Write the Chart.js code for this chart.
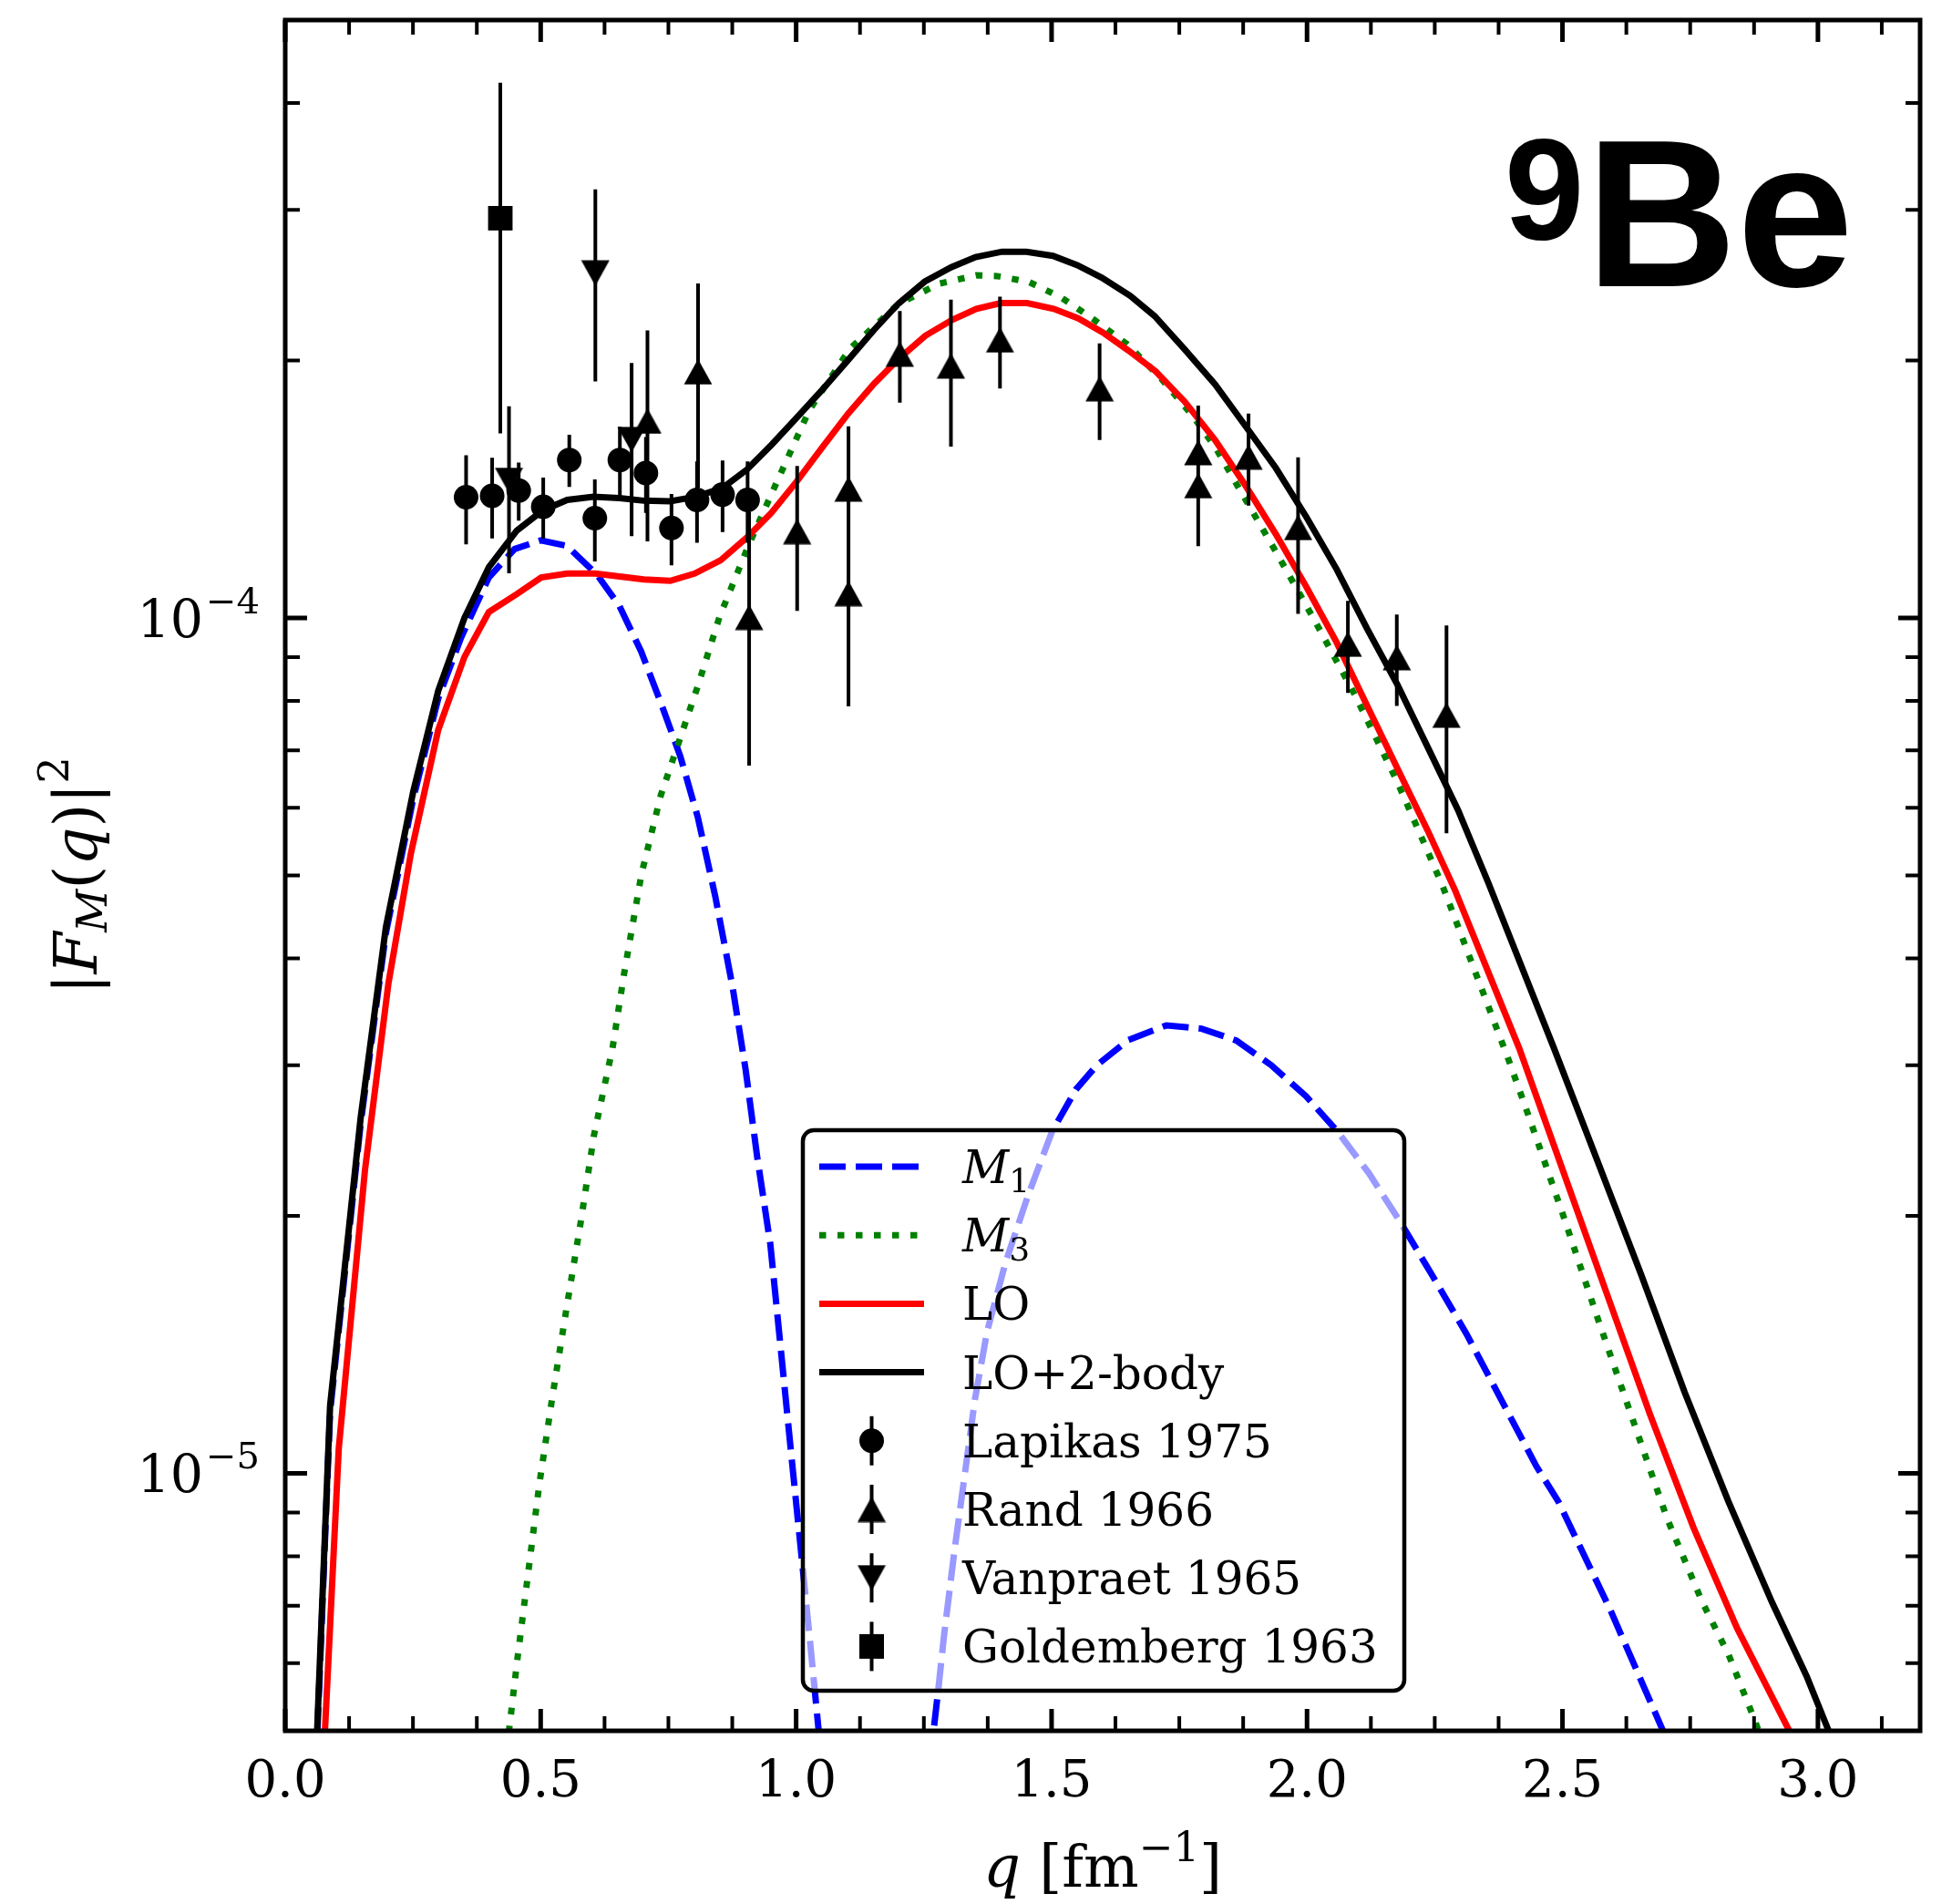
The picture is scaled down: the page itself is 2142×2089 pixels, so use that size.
<!DOCTYPE html>
<html lang="en">
<head>
<meta charset="UTF-8">
<title>9Be magnetic form factor</title>
<script src="https://cdn.jsdelivr.net/npm/chart.js"></script>
<style>
    html, body { margin: 0; padding: 0; background: #fff; overflow: hidden; }
</style>
</head>
<body>
<canvas id="ffChart" width="2142" height="2089"></canvas>
<script>
// ---- theory curves: q [fm^-1] and |F_M(q)|^2 ----
const m1Q = [0.060, 0.0878, 0.1475, 0.197, 0.2506, 0.2995, 0.344, 0.3985, 0.449, 0.500, 0.5515, 0.611, 0.654, 0.6966, 0.7392, 0.7733, 0.8075, 0.8416, 0.8757, 0.9013, 0.9238, 0.9495, 0.9708, 0.992, 1.0093, 1.0263, 1.05, 1.15, 1.262, 1.278, 1.290, 1.310, 1.330, 1.350, 1.3739, 1.4097, 1.4536, 1.501, 1.5476, 1.5886, 1.650, 1.725, 1.7935, 1.8617, 1.930, 1.998, 2.0596, 2.121, 2.1825, 2.244, 2.312, 2.3805, 2.449, 2.4919, 2.5943, 2.6968, 2.720];
const m1F = [4.5e-6, 1.18e-5, 2.56e-5, 4.28e-5, 6.15e-5, 8.05e-5, 9.48e-5, 1.115e-4, 1.204e-4, 1.232e-4, 1.214e-4, 1.122e-4, 1.033e-4, 9.14e-5, 7.84e-5, 6.89e-5, 5.85e-5, 4.73e-5, 3.70e-5, 2.96e-5, 2.343e-5, 1.853e-5, 1.381e-5, 1.03e-5, 8.14e-6, 6.44e-6, 4.6e-6, null, 4.6e-6, 5.57e-6, 6.5e-6, 8.13e-6, 9.96e-6, 1.221e-5, 1.466e-5, 1.762e-5, 2.11e-5, 2.51e-5, 2.81e-5, 3.0e-5, 3.21e-5, 3.34e-5, 3.31e-5, 3.206e-5, 3.0e-5, 2.76e-5, 2.51e-5, 2.244e-5, 1.967e-5, 1.708e-5, 1.456e-5, 1.218e-5, 1.019e-5, 9.27e-6, 6.91e-6, 5.0e-6, 4.6e-6];

const m3Q = [0.425, 0.4376, 0.4545, 0.4759, 0.4973, 0.5228, 0.5501, 0.5783, 0.604, 0.6406, 0.663, 0.6973, 0.735, 0.8074, 0.8502, 0.9057, 0.954, 1.026, 1.1055, 1.201, 1.281, 1.353, 1.393, 1.456, 1.520, 1.584, 1.648, 1.712, 1.776, 1.820, 1.8676, 1.939, 2.0162, 2.0936, 2.1768, 2.2363, 2.266, 2.394, 2.432, 2.5005, 2.569, 2.637, 2.7053, 2.7737, 2.825, 2.876, 2.900];
const m3F = [4.3e-6, 4.98e-6, 6.07e-6, 7.68e-6, 9.71e-6, 1.228e-5, 1.553e-5, 1.965e-5, 2.48e-5, 3.14e-5, 3.83e-5, 5.02e-5, 6.2e-5, 8.32e-5, 1.0035e-4, 1.211e-4, 1.406e-4, 1.751e-4, 2.065e-4, 2.33e-4, 2.46e-4, 2.515e-4, 2.51e-4, 2.47e-4, 2.367e-4, 2.23e-4, 2.089e-4, 1.912e-4, 1.723e-4, 1.585e-4, 1.415e-4, 1.195e-4, 9.9e-5, 8.13e-5, 6.43e-5, 5.33e-5, 4.85e-5, 3.05e-5, 2.635e-5, 2.01e-5, 1.517e-5, 1.158e-5, 8.84e-6, 7.07e-6, 6.14e-6, 5.15e-6, 4.7e-6];

const loQ = [0.074, 0.1048, 0.156, 0.202, 0.2458, 0.2995, 0.3507, 0.3985, 0.4531, 0.501, 0.552, 0.6067, 0.6545, 0.702, 0.7535, 0.8013, 0.8525, 0.9037, 0.9515, 1.002, 1.0498, 1.1016, 1.1534, 1.2011, 1.253, 1.305, 1.353, 1.4005, 1.452, 1.504, 1.552, 1.600, 1.651, 1.7036, 1.7606, 1.820, 1.8796, 1.939, 1.9984, 2.058, 2.1174, 2.1768, 2.2363, 2.29, 2.4153, 2.5005, 2.5858, 2.6713, 2.7565, 2.8418, 2.944, 2.970];
const loF = [4.5e-6, 1.07e-5, 2.26e-5, 3.74e-5, 5.3e-5, 7.4e-5, 9.0e-5, 1.016e-4, 1.066e-4, 1.115e-4, 1.127e-4, 1.127e-4, 1.118e-4, 1.109e-4, 1.105e-4, 1.127e-4, 1.168e-4, 1.242e-4, 1.327e-4, 1.446e-4, 1.579e-4, 1.733e-4, 1.881e-4, 2.009e-4, 2.138e-4, 2.23e-4, 2.298e-4, 2.334e-4, 2.334e-4, 2.298e-4, 2.24e-4, 2.157e-4, 2.053e-4, 1.943e-4, 1.79e-4, 1.614e-4, 1.428e-4, 1.253e-4, 1.088e-4, 9.36e-5, 7.9e-5, 6.67e-5, 5.64e-5, 4.80e-5, 3.14e-5, 2.262e-5, 1.628e-5, 1.172e-5, 8.64e-6, 6.59e-6, 5.0e-6, 4.6e-6];

const totQ = [0.060, 0.0878, 0.1475, 0.197, 0.2506, 0.2995, 0.3507, 0.3985, 0.4531, 0.5043, 0.552, 0.6033, 0.6545, 0.702, 0.7535, 0.8047, 0.856, 0.9037, 0.9515, 1.001, 1.0487, 1.1004, 1.152, 1.200, 1.2517, 1.3036, 1.3512, 1.403, 1.4508, 1.5027, 1.5503, 1.598, 1.654, 1.7017, 1.7606, 1.820, 1.8796, 1.939, 1.9984, 2.058, 2.1174, 2.1768, 2.2363, 2.2957, 2.355, 2.4834, 2.5688, 2.6542, 2.7393, 2.8248, 2.910, 2.978, 3.021, 3.045];
const totF = [4.6e-6, 1.20e-5, 2.60e-5, 4.35e-5, 6.27e-5, 8.22e-5, 1.0e-4, 1.146e-4, 1.265e-4, 1.336e-4, 1.374e-4, 1.386e-4, 1.381e-4, 1.371e-4, 1.369e-4, 1.386e-4, 1.419e-4, 1.491e-4, 1.593e-4, 1.714e-4, 1.841e-4, 1.998e-4, 2.17e-4, 2.33e-4, 2.473e-4, 2.57e-4, 2.642e-4, 2.68e-4, 2.68e-4, 2.65e-4, 2.585e-4, 2.50e-4, 2.38e-4, 2.254e-4, 2.06e-4, 1.875e-4, 1.676e-4, 1.497e-4, 1.313e-4, 1.14e-4, 9.72e-5, 8.36e-5, 7.06e-5, 5.96e-5, 4.9e-5, 3.14e-5, 2.315e-5, 1.706e-5, 1.243e-5, 9.27e-6, 7.07e-6, 5.79e-6, 5.0e-6, 4.6e-6];

// ---- measurements (value and symmetric error) ----
const lapQ = [0.354, 0.405, 0.457, 0.505, 0.556, 0.606, 0.655, 0.706, 0.756, 0.806, 0.856, 0.905];
const lapF = [1.384e-4, 1.389e-4, 1.409e-4, 1.349e-4, 1.530e-4, 1.308e-4, 1.530e-4, 1.477e-4, 1.274e-4, 1.374e-4, 1.394e-4, 1.374e-4];
const lapErr = [1.65e-5, 1.5e-5, 1.1e-5, 1.1e-5, 1.07e-5, 1.44e-5, 1.43e-5, 1.5e-5, 1.22e-5, 1.5e-5, 1.34e-5, 1.5e-5];

const randQ = [0.709, 0.808, 0.908, 1.002, 1.1025, 1.1025, 1.203, 1.303, 1.399, 1.594, 1.787, 1.787, 1.8855, 1.9825, 2.080, 2.1757, 2.273];
const randF = [1.699e-4, 1.940e-4, 1.002e-4, 1.262e-4, 1.415e-4, 1.068e-4, 2.035e-4, 1.971e-4, 2.114e-4, 1.854e-4, 1.561e-4, 1.428e-4, 1.543e-4, 1.276e-4, 9.32e-5, 8.99e-5, 7.70e-5];
const randErr = [4.7e-5, 5.2e-5, 3.3e-5, 2.43e-5, 2.6e-5, 2.8e-5, 2.5e-5, 3.85e-5, 2.6e-5, 2.4e-5, 2.1e-5, 2.15e-5, 1.9e-5, 2.65e-5, 1.15e-5, 1.1e-5, 2.1e-5];

const vanQ = [0.438, 0.607, 0.678];
const vanF = [1.448e-4, 2.530e-4, 1.616e-4];
const vanErr = [3.2e-5, 6.4e-5, 3.7e-5];

const golQ = [0.421];
const golF = [2.933e-4];
const golErr = [1.29e-4];

// ---- axes ----
const qMin = 0, qMax = 3.2, qStep = 0.5, qMinorStep = 0.125;
const fMin = 5e-6, fMax = 5e-4;
const yTickExps = [-5, -4];

const SERIF = '"DejaVu Serif"';
const LW = 7;
const toXY = (q, f) => q.map((v, i) => ({ x: v, y: f[i] }));

function triangleMarker(down) {
    const c = document.createElement('canvas');
    c.width = 32; c.height = 29;
    const g = c.getContext('2d');
    g.fillStyle = '#000';
    g.beginPath();
    if (down) { g.moveTo(0.5, 0.5); g.lineTo(31.5, 0.5); g.lineTo(16, 28.5); }
    else { g.moveTo(16, 0.5); g.lineTo(31.5, 28.5); g.lineTo(0.5, 28.5); }
    g.closePath();
    g.fill();
    return c;
}
const triUp = triangleMarker(false);
const triDown = triangleMarker(true);

function runFont(r, base) {
    return (r.it ? 'italic ' : '') + (r.size || base) + 'px ' + SERIF;
}
function runsWidth(c, runs, base) {
    let w = 0;
    runs.forEach(r => { c.font = runFont(r, base); w += c.measureText(r.t).width; });
    return w;
}
function drawRuns(c, runs, x, y, base) {
    c.textAlign = 'left';
    c.textBaseline = 'alphabetic';
    let cx = x;
    runs.forEach(r => {
        c.font = runFont(r, base);
        c.fillText(r.t, cx, y + (r.dy || 0));
        cx += c.measureText(r.t).width;
    });
}

// error bars go right under each marker set
const errorBars = {
    id: 'errorBars',
    beforeDatasetDraw(chart, args) {
        const ds = chart.data.datasets[args.index];
        if (!ds.yErr) return;
        const xs = chart.scales.x, ys = chart.scales.y, c = chart.ctx;
        c.save();
        c.strokeStyle = '#000';
        c.lineWidth = 4;
        c.beginPath();
        ds.data.forEach((p, i) => {
            const px = xs.getPixelForValue(p.x);
            c.moveTo(px, ys.getPixelForValue(p.y + ds.yErr[i]));
            c.lineTo(px, ys.getPixelForValue(p.y - ds.yErr[i]));
        });
        c.stroke();
        c.restore();
    }
};

const legendRows = [
    { line: '#0000ff', dash: [29, 11], runs: [{ t: 'M', it: true }, { t: '1', size: 36, dy: 10 }] },
    { line: '#008000', dash: [7.5, 12.5], runs: [{ t: 'M', it: true }, { t: '3', size: 36, dy: 10 }] },
    { line: '#ff0000', dash: [], runs: [{ t: 'LO' }] },
    { line: '#000000', dash: [], runs: [{ t: 'LO+2-body' }] },
    { marker: 'circle', runs: [{ t: 'Lapikas 1975' }] },
    { marker: triUp, runs: [{ t: 'Rand 1966' }] },
    { marker: triDown, runs: [{ t: 'Vanpraet 1965' }] },
    { marker: 'square', runs: [{ t: 'Goldemberg 1963' }] }
];

const legendBox = {
    id: 'legendBox',
    afterDatasetsDraw(chart) {
        const c = chart.ctx, a = chart.chartArea;
        const bx = a.left + 568, by = a.top + 1218, bw = 660, bh = 615, r = 12;
        c.save();
        c.beginPath();
        c.roundRect(bx, by, bw, bh, r);
        c.fillStyle = 'rgba(255,255,255,0.6)';
        c.fill();
        c.lineWidth = 4.5;
        c.strokeStyle = '#000';
        c.stroke();

        const hx0 = bx + 18, hx1 = bx + 133, hxm = (hx0 + hx1) / 2, tx = bx + 175;
        legendRows.forEach((row, i) => {
            const ry = by + 40 + i * 75.2;
            if (row.line) {
                c.strokeStyle = row.line;
                c.lineWidth = LW;
                c.lineCap = 'butt';
                c.setLineDash(row.dash);
                c.beginPath();
                c.moveTo(hx0, ry);
                c.lineTo(hx1, ry);
                c.stroke();
                c.setLineDash([]);
            } else {
                c.strokeStyle = '#000';
                c.lineWidth = 4;
                c.beginPath();
                c.moveTo(hxm, ry - 27);
                c.lineTo(hxm, ry + 27);
                c.stroke();
                c.fillStyle = '#000';
                if (row.marker === 'circle') {
                    c.beginPath();
                    c.arc(hxm, ry, 13.5, 0, Math.PI * 2);
                    c.fill();
                } else if (row.marker === 'square') {
                    c.fillRect(hxm - 13.5, ry - 13.5, 27, 27);
                } else {
                    c.drawImage(row.marker, hxm - row.marker.width / 2, ry - row.marker.height / 2);
                }
            }
            c.fillStyle = '#000';
            drawRuns(c, row.runs, tx, ry + 18, 50);
        });
        c.restore();
    }
};

// spines, inward ticks, y tick labels, axis titles and the nucleus tag
const frame = {
    id: 'frame',
    afterDraw(chart) {
        const c = chart.ctx, a = chart.chartArea, xs = chart.scales.x, ys = chart.scales.y;
        c.save();
        c.strokeStyle = '#000';
        c.fillStyle = '#000';
        c.lineCap = 'butt';

        const n = Math.floor((qMax - qMin) / qMinorStep + 1e-9);
        for (let k = 0; k <= n; k++) {
            const v = qMin + k * qMinorStep;
            const major = Math.abs(v / qStep - Math.round(v / qStep)) < 1e-9;
            const len = major ? 24 : 16;
            const px = xs.getPixelForValue(v);
            c.lineWidth = major ? 5 : 4;
            c.beginPath();
            c.moveTo(px, a.bottom); c.lineTo(px, a.bottom - len);
            c.moveTo(px, a.top); c.lineTo(px, a.top + len);
            c.stroke();
        }
        for (let e = -6; e <= -4; e++) {
            for (let m = 1; m <= 9; m++) {
                const v = m * Math.pow(10, e);
                if (v < fMin * 0.999 || v > fMax * 1.001) continue;
                const major = m === 1;
                const len = major ? 24 : 16;
                const py = ys.getPixelForValue(v);
                c.lineWidth = major ? 5 : 4;
                c.beginPath();
                c.moveTo(a.left, py); c.lineTo(a.left + len, py);
                c.moveTo(a.right, py); c.lineTo(a.right - len, py);
                c.stroke();
            }
        }

        c.lineWidth = 5;
        c.strokeRect(a.left, a.top, a.right - a.left, a.bottom - a.top);

        // y tick labels 10^n
        yTickExps.forEach(e => {
            const py = ys.getPixelForValue(Math.pow(10, e));
            const right = a.left - 28;
            c.font = '40px ' + SERIF;
            const sup = '\u2212' + Math.abs(e);
            const sw = c.measureText(sup).width;
            c.textBaseline = 'alphabetic';
            c.textAlign = 'left';
            c.fillText(sup, right - sw, py - 5);
            c.font = '57px ' + SERIF;
            c.textAlign = 'right';
            c.fillText('10', right - sw - 3, py + 21);
        });

        // x title
        const xRuns = [{ t: 'q', it: true }, { t: ' [fm' }, { t: '\u22121', size: 45, dy: -28 }, { t: ']' }];
        const xw = runsWidth(c, xRuns, 64);
        drawRuns(c, xRuns, (a.left + a.right) / 2 - xw / 2, 2070, 64);

        // y title, rotated
        const yRuns = [{ t: '|' }, { t: 'F', it: true }, { t: 'M', it: true, size: 46, dy: 11 }, { t: '(' }, { t: 'q', it: true }, { t: ')' }, { t: '|' }, { t: '2', size: 46, dy: -31 }];
        const yw = runsWidth(c, yRuns, 66);
        c.translate(106, (a.top + a.bottom) / 2);
        c.rotate(-Math.PI / 2);
        drawRuns(c, yRuns, -yw / 2, 0, 66);
        c.setTransform(1, 0, 0, 1, 0, 0);

        // nucleus tag
        c.textAlign = 'left';
        c.textBaseline = 'alphabetic';
        c.font = 'bold 157px "Liberation Sans"';
        c.fillText('9', 1651, 262);
        c.font = 'bold 230px "Liberation Sans"';
        c.fillText('Be', 1740, 314);
        c.restore();
    }
};

const lineDs = (label, q, f, color, dash, order) => ({
    label, data: toXY(q, f), showLine: true, borderColor: color, borderWidth: LW,
    borderDash: dash, borderCapStyle: 'butt', pointRadius: 0, tension: 0, spanGaps: false,
    fill: false, order, clip: 0
});
const markDs = (label, q, f, err, style, radius, order) => ({
    label, data: toXY(q, f), yErr: err, pointStyle: style, pointRadius: radius,
    backgroundColor: '#000', borderColor: '#000', borderWidth: 0, showLine: false, order
});

new Chart(document.getElementById('ffChart'), {
    type: 'scatter',
    data: {
        datasets: [
            lineDs('M1', m1Q, m1F, '#0000ff', [29, 11], 8),
            lineDs('M3', m3Q, m3F, '#008000', [7.5, 12.5], 7),
            lineDs('LO', loQ, loF, '#ff0000', [], 6),
            lineDs('LO+2-body', totQ, totF, '#000000', [], 5),
            markDs('Lapikas 1975', lapQ, lapF, lapErr, 'circle', 13.5, 4),
            markDs('Rand 1966', randQ, randF, randErr, triUp, 15, 3),
            markDs('Vanpraet 1965', vanQ, vanF, vanErr, triDown, 15, 2),
            markDs('Goldemberg 1963', golQ, golF, golErr, 'rect', 19, 1)
        ]
    },
    options: {
        responsive: false,
        animation: false,
        events: [],
        layout: { padding: { top: 22, right: 35, left: 0, bottom: 0 } },
        plugins: { legend: { display: false }, tooltip: { enabled: false } },
        scales: {
            x: {
                type: 'linear', min: qMin, max: qMax,
                grid: { display: false, drawTicks: false, tickLength: 0 },
                border: { display: false },
                ticks: {
                    stepSize: qStep, includeBounds: false, autoSkip: false, maxRotation: 0,
                    padding: 24, color: '#000',
                    font: { family: 'DejaVu Serif', size: 56 },
                    callback: v => v.toFixed(1)
                },
                afterFit: s => { s.height = 190; }
            },
            y: {
                type: 'logarithmic', min: fMin, max: fMax,
                grid: { display: false, drawTicks: false, tickLength: 0 },
                border: { display: false },
                ticks: { display: false },
                afterFit: s => { s.width = 313; }
            }
        }
    },
    plugins: [errorBars, legendBox, frame]
});
</script>
</body>
</html>
